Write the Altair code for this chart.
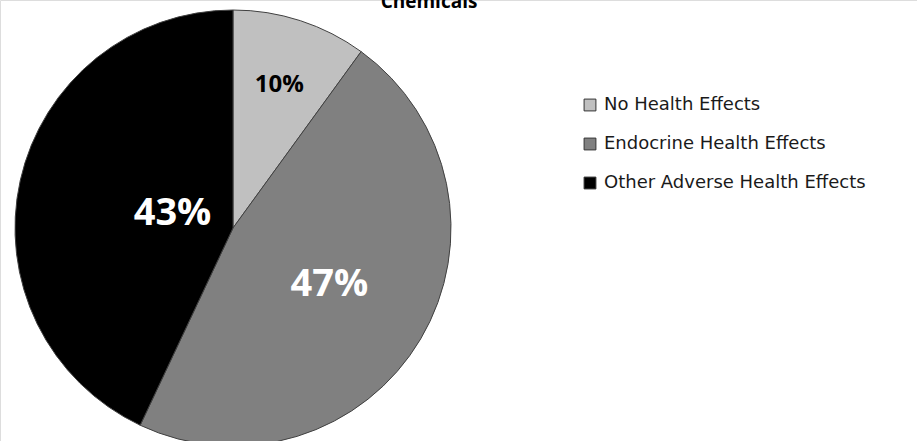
import altair as alt
import pandas as pd

categories = ["No Health Effects", "Endocrine Health Effects", "Other Adverse Health Effects"]
values = [10, 47, 43]
labels = ["10%", "47%", "43%"]
colors = ["#c0c0c0", "#808080", "#000000"]

df = pd.DataFrame({"category": categories, "value": values, "label": labels,
                   "order": [0, 1, 2]})

CX, CY, R = 233, 228, 218

pie = alt.Chart(df).mark_arc(stroke="#404040", strokeWidth=1, radius=R).encode(
    theta=alt.Theta("value:Q", stack=True),
    order=alt.Order("order:Q"),
    x=alt.value(CX), y=alt.value(CY),
    color=alt.Color("category:N", scale=alt.Scale(domain=categories, range=colors),
                    legend=alt.Legend(title=None, orient="none", legendX=581, legendY=96,
                                      symbolType="square", symbolSize=140,
                                      symbolStrokeColor="#333333", symbolStrokeWidth=1,
                                      labelFont="DejaVu Sans", labelFontSize=18,
                                      labelColor="#1a1a1a", rowPadding=21, labelOffset=5,
                                      labelLimit=400)),
)

def lbl(cat, radius, size, color):
    return alt.Chart(df).transform_joinaggregate(total="sum(value)").transform_window(
        cum="sum(value)", sort=[alt.SortField("order")]
    ).transform_calculate(
        mid="(datum.cum - datum.value/2) / datum.total * 2 * PI"
    ).transform_filter(alt.datum.category == cat).transform_calculate(
        px=f"{CX} + {radius} * sin(datum.mid)",
        py=f"{CY} - {radius} * cos(datum.mid)",
    ).mark_text(
        fontSize=size, fontWeight="bold", font="Open Sans", color=color,
        baseline="middle", align="center"
    ).encode(
        x=alt.X("px:Q", scale=None), y=alt.Y("py:Q", scale=None), text="label:N"
    )

t1 = lbl("No Health Effects", 150, 24, "#000000")
t2 = lbl("Endocrine Health Effects", 112, 38, "#ffffff")
t3 = lbl("Other Adverse Health Effects", 62, 38, "#ffffff")

title = alt.Chart(pd.DataFrame({"t": ["Chemicals"]})).mark_text(
    font="Open Sans", fontSize=19, fontWeight="bold", color="#000000",
    align="center", baseline="alphabetic"
).encode(x=alt.value(429), y=alt.value(8), text="t:N")

chart = alt.layer(pie, t1, t2, t3, title).properties(
    width=917, height=441, padding=0, autosize=alt.AutoSizeParams(type="none")
).configure_view(stroke=None).configure(background="white")

chart.save("out.html", embed_options={"renderer": "svg", "actions": False})
